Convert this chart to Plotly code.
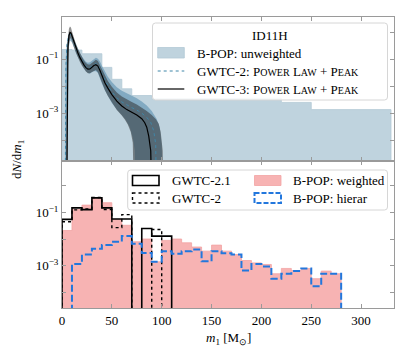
import plotly.graph_objects as go
from plotly.subplots import make_subplots

# ---------------- data ----------------
# top panel: B-POP unweighted histogram (bin edges in Msun)
top_edges = [0, 10, 20, 30, 40, 50, 60, 70, 80, 90, 100, 110, 120, 130, 140, 150, 160,
             170, 180, 190, 200, 210, 220, 230, 240, 250, 260, 270, 280, 290, 300, 310, 320, 330]
unweighted = [0.23, 0.22, 0.16, 0.16, 0.05, 0.018, 0.008, 0.0045, 0.0045, 0.0034,
              0.0036, 0.0036, 0.0036, 0.0036, 0.0036, 0.0036, 0.0036, 0.0036, 0.0036, 0.0036,
              0.0036, 0.0036, 0.0025, 0.0025, 0.0025, 0.00135, 0.00135, 0.00135, 0.00135,
              0.00135, 0.00135, 0.00135, 0.00135]

# GWTC-3 Power Law + Peak: median and 90% band
g3_m = [4.5, 5.0, 5.5, 6.0, 7.0, 8.0, 9.0, 10, 12, 14, 16, 18, 20, 22, 24, 26, 28, 30, 32, 34,
        36, 38, 40, 43, 46, 50, 55, 60, 65, 70, 75, 80, 83, 85, 87, 89, 90.5]
g3_med = [0, 1.6e-3, 0.06, 0.3, 0.75, 1.0, 0.95, 0.72, 0.42, 0.26, 0.17, 0.115, 0.082, 0.062,
          0.049, 0.043, 0.044, 0.051, 0.059, 0.063, 0.056, 0.039, 0.025, 0.0135, 0.0085, 0.0049,
          0.0028, 0.00185, 0.00135, 0.00107, 0.00085, 0.00062, 0.00044, 0.0003, 0.00014,
          0.00004, 0]
g3_up_m = [4.0, 4.5, 5.0, 6.0, 7.0, 8.0, 9.0, 10, 12, 14, 16, 18, 20, 22, 24, 26, 28, 30, 32, 34,
           36, 38, 40, 43, 46, 50, 55, 60, 65, 70, 75, 80, 85, 90, 94, 97, 99, 101, 102]
g3_up = [0, 0.012, 0.2, 0.65, 1.4, 1.65, 1.5, 1.1, 0.6, 0.37, 0.24, 0.165, 0.12, 0.09, 0.072,
         0.064, 0.064, 0.073, 0.087, 0.095, 0.086, 0.062, 0.04, 0.024, 0.0155, 0.0095, 0.0058,
         0.0041, 0.0032, 0.0026, 0.0021, 0.0016, 0.0012, 0.00085, 0.0006, 0.0004, 0.0002,
         0.00004, 0]
g3_lo_m = [5.5, 6.0, 7.0, 8.0, 9.0, 10, 12, 14, 16, 18, 20, 22, 24, 26, 28, 30, 32, 34, 36, 38,
           40, 43, 46, 50, 55, 60, 63, 66, 69, 71, 72.5]
g3_lo = [0, 0.07, 0.36, 0.58, 0.6, 0.48, 0.28, 0.175, 0.115, 0.08, 0.058, 0.044, 0.035, 0.030,
         0.030, 0.034, 0.038, 0.04, 0.033, 0.022, 0.0135, 0.0072, 0.0043, 0.0024, 0.0013,
         0.00082, 0.00058, 0.00038, 0.0002, 0.00008, 0]

# GWTC-2 Power Law + Peak: median and 90% band
g2_m = [3.0, 3.5, 4.0, 5, 6, 7, 8, 9, 10, 12, 14, 16, 18, 20, 22, 24, 26, 28, 30, 32, 34, 36, 38,
        40, 43, 46, 50, 55, 60, 65, 70, 75, 80, 85, 89, 92, 94, 95]
g2_med = [0, 0.0032, 0.063, 0.35, 0.65, 0.82, 0.86, 0.8, 0.66, 0.4, 0.26, 0.172, 0.12, 0.089,
          0.067, 0.053, 0.047, 0.048, 0.056, 0.064, 0.069, 0.061, 0.045, 0.029, 0.0165, 0.0105,
          0.0063, 0.0037, 0.0026, 0.002, 0.0016, 0.0013, 0.001, 0.0007, 0.00045, 0.00022,
          0.00007, 0]
g2_up_m = [3.0, 3.5, 4.5, 6, 8, 10, 12, 14, 16, 18, 20, 22, 24, 26, 28, 30, 32, 34, 36, 38, 40,
           43, 46, 50, 55, 60, 65, 70, 75, 80, 85, 90, 95, 98, 100, 102]
g2_up = [0, 0.04, 0.3, 0.75, 1.05, 0.9, 0.56, 0.36, 0.24, 0.17, 0.128, 0.097, 0.081, 0.074,
         0.077, 0.089, 0.103, 0.115, 0.105, 0.085, 0.058, 0.034, 0.0225, 0.0142, 0.0092, 0.0068,
         0.0055, 0.0045, 0.0036, 0.0027, 0.0019, 0.0012, 0.0006, 0.0003, 0.00007, 0]
g2_lo_m = [4.5, 5, 6, 8, 10, 12, 14, 16, 18, 20, 22, 24, 26, 28, 30, 32, 34, 36, 38, 40, 43, 46,
           50, 55, 60, 64, 68, 71, 73, 74]
g2_lo = [0, 0.035, 0.18, 0.5, 0.42, 0.26, 0.175, 0.118, 0.085, 0.061, 0.046, 0.036, 0.031,
         0.029, 0.033, 0.036, 0.036, 0.031, 0.02, 0.0125, 0.007, 0.0043, 0.0024, 0.00135,
         0.00085, 0.00055, 0.0003, 0.00012, 0.00004, 0]

# bottom panel histograms
bot_edges = [0, 10, 20, 30, 40, 50, 60, 70, 80, 90, 100, 110, 120, 130, 140, 150, 160, 170,
             180, 190, 200, 210, 220, 230, 240, 250, 260, 270, 280]
weighted = [0.021, 0.129, 0.19, 0.355, 0.234, 0.055, 0.033, 0.0079, 0.01, 0.00138, 0.0089, 0.01,
            0.0072, 0.005, 0.0035, 0.0059, 0.0035, 0.0026, 0.00155, 0.00126, 0.0011, 0.00049,
            0.00078, 0.00065, 0.00078, 0.00032, 0.00062, 0.00049]
hierar_edges = [10, 20, 30, 40, 50, 60, 70, 80, 90, 100, 110, 120, 130, 140, 150, 160, 170, 180,
                190, 200, 210, 220, 230, 240, 250, 260, 270, 280]
hierar = [0.00115, 0.0026, 0.0043, 0.0059, 0.0079, 0.0129, 0.0066, 0.003, 0.00138, 0.0035,
          0.0028, 0.0035, 0.004, 0.00145, 0.0035, 0.0029, 0.0026, 0.00065, 0.00115, 0.00093,
          0.00032, 0.00049, 0.00062, 0.00078, 0.000166, 0.00049, 0.00049]
gwtc21_edges = [0, 10, 20, 30, 40, 50, 60, 70, 80, 90, 100, 110]
gwtc21 = [0.055, 0.15, 0.129, 0.355, 0.15, 0.057, 0.057, 0, 0.025, 0.0129, 0.0129]
gwtc2_edges = [0, 10, 20, 30, 40, 50, 60, 70, 80, 90, 100]
gwtc2 = [0.045, 0.126, 0.135, 0.37, 0.13, 0.027, 0.083, 0, 0, 0.023]

x_ticks = [0, 50, 100, 150, 200, 250, 300]
y_tickvals = [1e-4, 1e-3, 1e-2, 1e-1, 1]
y_ticktext = ['', '10<sup>\u22123</sup>', '', '10<sup>\u22121</sup>', '']

# ---------------- styling ----------------
FLOOR = 1e-7
FONT = 'Liberation Serif'
FS = 13
C_HIST = '#bfd3de'
C_PINK = '#f7b3b3'
C_BLUE = '#2277dd'
C_G2 = '#3f86a8'
AX = '#9a9a9a'

# page body has an 8px margin: figure is sized/placed so the plot lands where the reference has it
OFF = 8
W, H = 415 - OFF, 346 - OFF
L, R, T, B = 62 - OFF, 21, 17 - OFF, 38
PW, PH = W - L - R, H - T - B


def px(x):
    return (x - OFF - L) / PW


def py(y):
    return (H - B - (y - OFF)) / PH


def step_xy(edges, vals):
    xs, ys = [edges[0]], [FLOOR]
    for i, v in enumerate(vals):
        vv = v if v > 0 else FLOOR
        xs += [edges[i], edges[i + 1]]
        ys += [vv, vv]
    xs.append(edges[-1])
    ys.append(FLOOR)
    return xs, ys


def pos(vals):
    return [v if v > 0 else FLOOR for v in vals]


fig = make_subplots(rows=2, cols=1, shared_xaxes=True, vertical_spacing=0)

# ---- top panel ----
hx, hy = step_xy(top_edges, unweighted)
fig.add_trace(go.Scatter(x=hx, y=hy, mode='lines', fill='toself', fillcolor=C_HIST,
                         line=dict(color='#b3c9d5', width=0.8), showlegend=False), 1, 1)
fig.add_trace(go.Scatter(x=g2_up_m + g2_lo_m[::-1], y=pos(g2_up) + pos(g2_lo)[::-1],
                         mode='lines', fill='toself', fillcolor='rgba(70,130,165,0.5)',
                         line=dict(width=0), showlegend=False), 1, 1)
fig.add_trace(go.Scatter(x=g3_up_m + g3_lo_m[::-1], y=pos(g3_up) + pos(g3_lo)[::-1],
                         mode='lines', fill='toself', fillcolor='rgba(40,40,40,0.5)',
                         line=dict(width=0), showlegend=False), 1, 1)
fig.add_trace(go.Scatter(x=g2_m, y=pos(g2_med), mode='lines',
                         line=dict(color=C_G2, width=1, dash='dot'), showlegend=False), 1, 1)
fig.add_trace(go.Scatter(x=g3_m, y=pos(g3_med), mode='lines',
                         line=dict(color='black', width=1.2), showlegend=False), 1, 1)

# ---- bottom panel ----
wx, wy = step_xy(bot_edges, weighted)
fig.add_trace(go.Scatter(x=wx, y=wy, mode='lines', fill='toself', fillcolor=C_PINK,
                         line=dict(color='#f2a3a3', width=0.8), showlegend=False), 2, 1)
bx, by = step_xy(gwtc21_edges, gwtc21)
fig.add_trace(go.Scatter(x=bx, y=by, mode='lines', line=dict(color='black', width=1.6),
                         showlegend=False), 2, 1)
dx, dy = step_xy(gwtc2_edges, gwtc2)
fig.add_trace(go.Scatter(x=dx, y=dy, mode='lines', line=dict(color='black', width=1.4, dash='dot'),
                         showlegend=False), 2, 1)
ex, ey = step_xy(hierar_edges, hierar)
fig.add_trace(go.Scatter(x=ex, y=ey, mode='lines', line=dict(color=C_BLUE, width=2, dash='7px,3px'),
                         showlegend=False), 2, 1)

# ---- axes ----
tickfont = dict(family=FONT, size=FS, color='black')
for r in (1, 2):
    fig.update_xaxes(range=[0, 333], tickvals=x_ticks, ticks='inside', ticklen=4, tickcolor=AX,
                     showline=True, linecolor=AX, linewidth=1, mirror='ticks', showgrid=False,
                     zeroline=False, tickfont=tickfont, row=r, col=1)
fig.update_xaxes(showticklabels=False, row=1, col=1)
fig.update_yaxes(type='log', range=[-4.78, 0.57], row=1, col=1)
fig.update_yaxes(type='log', range=[-4.6, 0.94], row=2, col=1)
for r in (1, 2):
    fig.update_yaxes(tickvals=y_tickvals, ticktext=y_ticktext, ticks='inside', ticklen=4,
                     tickcolor=AX, showline=True, linecolor=AX, linewidth=1, mirror='ticks',
                     showgrid=False, zeroline=False, tickfont=tickfont, row=r, col=1)
fig.update_layout(yaxis=dict(domain=[0.505, 1]), yaxis2=dict(domain=[0, 0.505]))

# ---- legends (drawn manually) ----
shapes = []
ann = []


def rrect(x0, y0, x1, y1, r=3):
    X0, X1, Y0, Y1 = px(x0), px(x1), py(y0), py(y1)
    rx, ry = r / PW, r / PH
    return (f'M {X0+rx},{Y0} L {X1-rx},{Y0} Q {X1},{Y0} {X1},{Y0-ry} L {X1},{Y1+ry} '
            f'Q {X1},{Y1} {X1-rx},{Y1} L {X0+rx},{Y1} Q {X0},{Y1} {X0},{Y1+ry} '
            f'L {X0},{Y0-ry} Q {X0},{Y0} {X0+rx},{Y0} Z')


def box(x0, y0, x1, y1, **kw):
    shapes.append(dict(type='rect', xref='paper', yref='paper', x0=px(x0), x1=px(x1),
                       y0=py(y0), y1=py(y1), layer='above', **kw))


def hline(x0, x1, y, **kw):
    shapes.append(dict(type='line', xref='paper', yref='paper', x0=px(x0), x1=px(x1),
                       y0=py(y), y1=py(y), layer='above', **kw))


def text(x, y, s, anchor='left', size=FS, **kw):
    ann.append(dict(xref='paper', yref='paper', x=px(x), y=py(y), text=s, showarrow=False,
                    xanchor=anchor, yanchor='middle', font=dict(family=FONT, size=size,
                                                                 color='black'), **kw))


def sc(word):
    return word[0] + "<span style='font-size:10px'>" + word[1:] + '</span>'


plp = sc('POWER') + ' ' + sc('LAW') + ' + ' + sc('PEAK')

# top legend
shapes.append(dict(type='path', xref='paper', yref='paper', path=rrect(152.5, 23, 387.5, 100),
                   fillcolor='rgba(255,255,255,0.85)', line=dict(color='#d6d6d6', width=1),
                   layer='above'))
text(270, 35, 'ID11H', anchor='center')
box(157.7, 47.5, 184.3, 58, fillcolor=C_HIST, line=dict(color='#b3c9d5', width=0.8))
text(195, 53, 'B-POP: unweighted')
hline(157.7, 184.3, 71, line=dict(color=C_G2, width=1, dash='dot'))
text(195, 71, 'GWTC-2: ' + plp)
hline(157.7, 184.3, 89, line=dict(color='black', width=1.2))
text(195, 89, 'GWTC-3: ' + plp)

# bottom legend
shapes.append(dict(type='path', xref='paper', yref='paper', path=rrect(127.7, 170, 387.5, 210),
                   fillcolor='rgba(255,255,255,0.85)', line=dict(color='#d6d6d6', width=1),
                   layer='above'))
box(132.5, 175.5, 159, 185.5, fillcolor='rgba(0,0,0,0)', line=dict(color='black', width=1.6))
text(170, 180.5, 'GWTC-2.1')
box(132.5, 193, 159, 203, fillcolor='rgba(0,0,0,0)', line=dict(color='black', width=1.4, dash='dot'))
text(170, 198, 'GWTC-2')
box(254.5, 175.5, 281, 185.5, fillcolor=C_PINK, line=dict(color='#f2a3a3', width=0.8))
text(291, 180.5, 'B-POP: weighted')
box(254.5, 193, 281, 203, fillcolor='rgba(0,0,0,0)', line=dict(color=C_BLUE, width=2, dash='5px,2px'))
text(291, 198, 'B-POP: hierar')

# axis titles
text(228, 338, '<i>m</i><sub>1</sub> [M<sub>\u2299</sub>]', anchor='center')
text(17, 160, 'd<i>N</i>/d<i>m</i><sub>1</sub>', anchor='center', textangle=-90)

fig.update_layout(width=W, height=H, margin=dict(l=L, r=R, t=T, b=B, autoexpand=False),
                  plot_bgcolor='white', paper_bgcolor='white', showlegend=False,
                  shapes=shapes, annotations=ann, font=dict(family=FONT, size=FS))

fig.write_html('out.html')
